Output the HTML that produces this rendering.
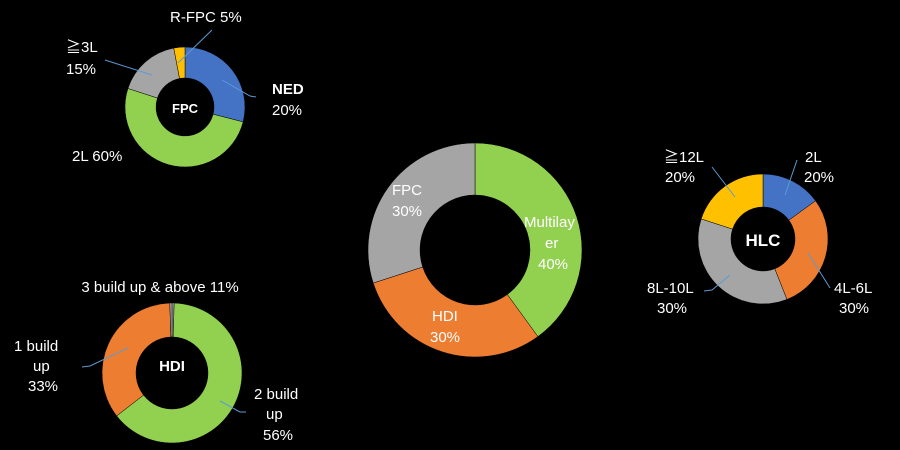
<!DOCTYPE html>
<html><head><meta charset="utf-8"><style>
html,body{margin:0;padding:0;background:#000;}
svg{display:block;}
text{font-family:"Liberation Sans","Noto Sans CJK JP",sans-serif;fill:#fff;font-size:15px;}
.b{font-weight:bold;}
.l{stroke:#5b9bd5;stroke-width:1;fill:none;}
</style></head><body>
<svg id="c" width="900" height="450" viewBox="0 0 900 450">
<g id="marks"></g>
<g>
<text x="170" y="22">R-FPC  5%</text>
<text x="66" y="52">≧3L</text>
<text x="66" y="74">15%</text>
<text x="272" y="94" class="b">NED</text>
<text x="272" y="115">20%</text>
<text x="72" y="161">2L  60%</text>
<text x="185" y="113" class="b" font-size="13" text-anchor="middle" style="font-size:13px">FPC</text>
<polyline class="l" points="212,30 178,63"/><polyline class="l" points="105,60 152,75"/><polyline class="l" points="222,80 250,96 256,97"/>

<text x="160" y="292" text-anchor="middle">3 build up &amp; above 11%</text>
<text x="14" y="351">1  build</text>
<text x="33" y="371">up</text>
<text x="28" y="391">33%</text>
<text x="254" y="399">2 build</text>
<text x="266" y="419">up</text>
<text x="263" y="440">56%</text>
<text x="172" y="371" class="b" text-anchor="middle">HDI</text>
<polyline class="l" points="82,367 90,366 128,348"/><polyline class="l" points="220,401 240,412 246,412"/>

<text x="392" y="195">FPC</text>
<text x="392" y="216">30%</text>
<text x="524" y="227">Multilay</text>
<text x="545" y="248">er</text>
<text x="538" y="269">40%</text>
<text x="432" y="321">HDI</text>
<text x="430" y="342">30%</text>

<text x="805" y="162">2L</text>
<text x="804" y="182">20%</text>
<text x="664" y="162">≧12L</text>
<text x="665" y="182">20%</text>
<text x="647" y="293">8L-10L</text>
<text x="657" y="313">30%</text>
<text x="834" y="293">4L-6L</text>
<text x="839" y="313">30%</text>
<text x="763" y="246" class="b" text-anchor="middle" style="font-size:17px">HLC</text>
<polyline class="l" points="797,160 785,195"/><polyline class="l" points="712,167 735,197"/><polyline class="l" points="704,291 712,290 730,275"/><polyline class="l" points="830,288 808,253"/>
</g>
</svg>
<script>
const fpcValues=[29,51,17,3];
const fpcNames=["NED","2L","3L","R-FPC"];
const hdiValues=[0.5,64,35,0.5];
const hdiNames=["3-build-up","2-build-up","1-build-up","3-build-up-end"];
const mainValues=[40,30,30];
const mainNames=["Multilayer","HDI","FPC"];
const hlcValues=[15,29,36,20];
const hlcNames=["2L","4L-6L","8L-10L","12L"];
const C={b:"#4472C4",o:"#ED7D31",g:"#A5A5A5",y:"#FFC000",gr:"#92D050"};
const g=document.getElementById('marks');
function pt(cx,cy,r,a){return [cx+r*Math.sin(a),cy-r*Math.cos(a)];}
function donut(id,vals,names,cols,cx,cy,R,r){
  const tot=vals.reduce((a,b)=>a+b,0);let a0=0;
  vals.forEach((v,i)=>{
    const a1=a0+v/tot*2*Math.PI;
    const p1=pt(cx,cy,R,a0),p2=pt(cx,cy,R,a1),p3=pt(cx,cy,r,a1),p4=pt(cx,cy,r,a0);
    const lg=(a1-a0)>Math.PI?1:0;
    const p=document.createElementNS("http://www.w3.org/2000/svg","path");
    p.setAttribute("d",`M${p1}A${R},${R} 0 ${lg} 1 ${p2}L${p3}A${r},${r} 0 ${lg} 0 ${p4}Z`);
    p.setAttribute("fill",cols[i]);
    p.setAttribute("stroke","#000");p.setAttribute("stroke-width","0.5");
    
    
    g.appendChild(p);a0=a1;
  });
}
donut("fpc",fpcValues,fpcNames,[C.b,C.gr,C.g,C.y],185,107,60,29);
donut("hdi",hdiValues,hdiNames,[C.g,C.gr,C.o,C.g],172,373,70,36);
donut("main",mainValues,mainNames,[C.gr,C.o,C.g],475,250,107,55);
donut("hlc",hlcValues,hlcNames,[C.b,C.o,C.g,C.y],763,239,65,32);
</script>
</body></html>
